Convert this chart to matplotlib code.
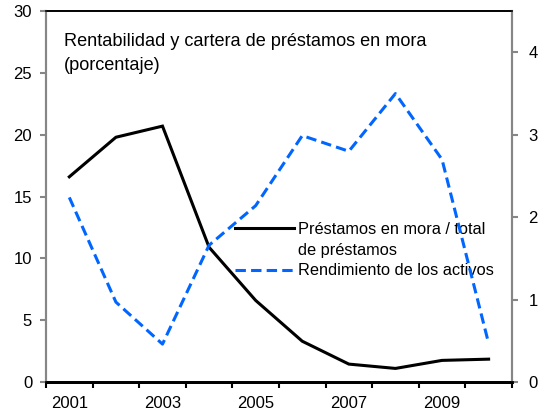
import matplotlib
matplotlib.use("Agg")
import matplotlib.pyplot as plt
from matplotlib.lines import Line2D
from matplotlib.ticker import FixedLocator

plt.rcParams["font.family"] = ["Liberation Sans", "DejaVu Sans"]

# ---- data ----
years = ["2001", "2002", "2003", "2004", "2005",
         "2006", "2007", "2008", "2009", "2010"]
npl_ratio = [16.6, 19.8, 20.7, 10.9, 6.6, 3.3, 1.45, 1.1, 1.75, 1.85]  # left axis
roa = [2.24, 0.97, 0.46, 1.66, 2.14, 2.99, 2.80, 3.50, 2.70, 0.47]     # right axis
left_ticks = [0, 5, 10, 15, 20, 25, 30]
right_ticks = [0, 1, 2, 3, 4]
title = "Rentabilidad y cartera de préstamos en mora\n(porcentaje)"
npl_label = ["Préstamos en mora / total", "de préstamos"]
roa_label = "Rendimiento de los activos"

GRAY = "#868686"
BLUE = "#0066FF"
FS_TITLE = 13.1
FS_LEG = 11.8
FS_TICK = 12

fig = plt.figure(figsize=(5.44, 4.13), dpi=100)
ax = fig.add_subplot(111)
fig.subplots_adjust(left=0.0846, right=0.941, top=0.973, bottom=0.075)
ax2 = ax.twinx()

x = list(range(len(years)))
l1, = ax.plot(x, npl_ratio, color="black", lw=2.2, solid_joinstyle="miter")
l2, = ax2.plot(x, roa, color=BLUE, lw=2.2, dashes=(3.4, 1.7),
               dash_capstyle="butt")

ax.set_xlim(-0.5, len(years) - 0.5)
ax.set_ylim(0, 30)
ax2.set_ylim(0, 4.5)
ax.set_yticks(left_ticks)
ax2.set_yticks(right_ticks)

# year labels every other category, tick marks on category boundaries
ax.set_xticks(x[::2])
ax.set_xticklabels(years[::2])
ax.xaxis.set_minor_locator(FixedLocator([i - 0.5 for i in range(len(years) + 1)]))
ax.tick_params(axis="x", which="major", length=0, pad=10, labelsize=FS_TICK)
ax.tick_params(axis="x", which="minor", direction="out", length=4,
               width=1.5, color="black")
ax.tick_params(axis="y", direction="out", length=4, width=1.5, color=GRAY,
               pad=6, labelsize=FS_TICK)
ax2.tick_params(axis="y", direction="out", length=4, width=1.5, color=GRAY,
                pad=8, labelsize=FS_TICK)

for a in (ax, ax2):
    a.spines["left"].set_color(GRAY)
    a.spines["right"].set_color(GRAY)
    a.spines["left"].set_linewidth(1.5)
    a.spines["right"].set_linewidth(1.5)
    a.spines["top"].set_linewidth(1.2)
    a.spines["bottom"].set_linewidth(2.0)

ax.text(0.038, 0.94, title, transform=ax.transAxes, ha="left", va="top",
        fontsize=FS_TITLE, linespacing=1.5)

# second line of the first label gets a blank handle so the line sits on line one
blank = Line2D([], [], color="none")
ax.legend([l1, blank, l2], npl_label + [roa_label], loc="upper left",
          bbox_to_anchor=(0.405, 0.432), frameon=False, fontsize=FS_LEG,
          borderpad=0, borderaxespad=0, handlelength=3.6, handletextpad=0.25,
          labelspacing=0.35)

fig.savefig("out.png", dpi=100)
